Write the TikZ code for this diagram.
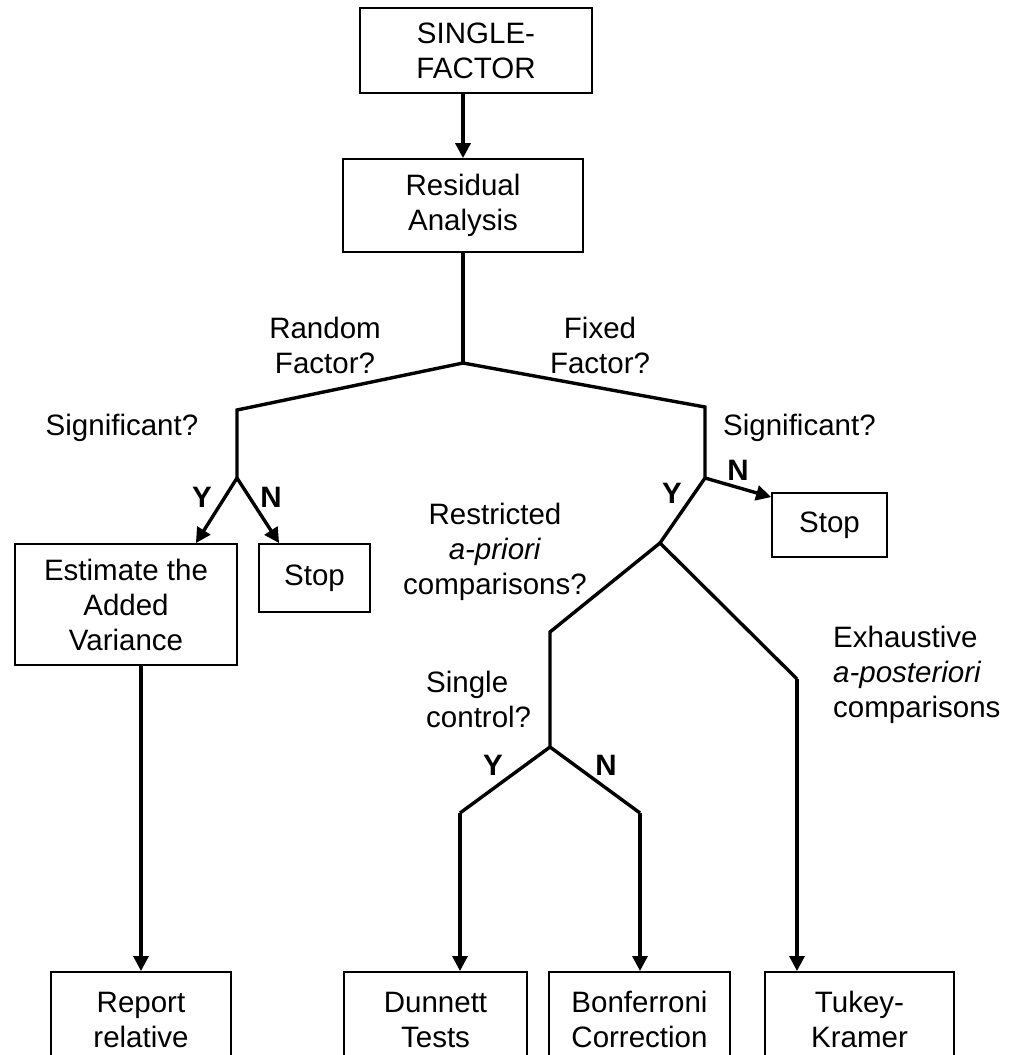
\documentclass[tikz,border=0pt]{standalone}
\usepackage{fontspec}
\setmainfont{Liberation Sans}
\usetikzlibrary{arrows.meta,calc}
\begin{document}
\begin{tikzpicture}[x=1pt,y=-1pt,
  every node/.style={font=\fontsize{29.5}{35}\selectfont, inner sep=0pt},
  box/.style={draw, line width=1.8pt, align=center},
  lbl/.style={align=center},
  yn/.style={font=\fontsize{29.5}{35}\selectfont\bfseries},
  ln/.style={line width=3.4pt, line join=miter},
  arr/.style={line width=3.4pt, -{Triangle[length=15pt,width=15pt]}}]
\useasboundingbox (0,0) rectangle (1017,1055);
\clip (0,0) rectangle (1017,1055);
% boxes
\node[box, minimum width=232, minimum height=85] (sf) at (476,50.5) {SINGLE-\\FACTOR};
\node[box, minimum width=240, minimum height=93] (ra) at (463,205.5) {Residual\\Analysis};
\node[box, minimum width=222, minimum height=121] (est) at (126,604.5) {Estimate the\\Added\\Variance};
\node[box, minimum width=111, minimum height=68] (stopL) at (314.5,578) {Stop};
\node[box, minimum width=115, minimum height=64] (stopR) at (829.5,525) {Stop};
\node[box, anchor=north, minimum width=180, minimum height=130] (rep) at (141,971) {Report\\relative\\\mbox{}};
\node[box, anchor=north, minimum width=183, minimum height=130] (dun) at (435.5,971) {Dunnett\\Tests\\\mbox{}};
\node[box, anchor=north, minimum width=181, minimum height=130] (bon) at (639.5,971) {Bonferroni\\Correction\\\mbox{}};
\node[box, anchor=north, minimum width=189, minimum height=130] (tuk) at (859.5,971) {Tukey-\\Kramer\\\mbox{}};
% junction coordinates
\coordinate (j1) at (463,363);
\coordinate (jl) at (237,410);
\coordinate (jls) at (237,478);
\coordinate (jr) at (705,407);
\coordinate (jrs) at (705,478);
\coordinate (jf) at (660,543);
\coordinate (jrl) at (550,632);
\coordinate (jsc) at (550,747);
\coordinate (jy) at (460,813);
\coordinate (jn) at (640,813);
\coordinate (je) at (797,679);
% connectors
\draw[arr] (sf.south -| ra.north) -- (ra.north);
\draw[ln] (ra.south) -- (j1);
\draw[ln] (jls) -- (jl) -- (j1) -- (jr) -- (jrs);
\draw[arr] (jls) -- ($(est.north east)+(-42,0)$);
\draw[arr] (jls) -- ($(stopL.north west)+(21,0)$);
\draw[arr] (jrs) -- ($(stopR.north west)+(0,5)$);
\draw[ln] (jrs) -- (jf);
\draw[ln] (jsc) -- (jrl) -- (jf) -- (je);
\draw[ln] (jy) -- (jsc) -- (jn);
\draw[arr] (est.south -| rep.north) -- (rep.north);
\draw[arr] (jy) -- (jy |- dun.north);
\draw[arr] (jn) -- (jn |- bon.north);
\draw[arr] (je) -- (je |- tuk.north);
% labels
\node[lbl] (tRand) at (325,345) {Random\\Factor?};
\node[lbl] (tFix) at (600,345) {Fixed\\Factor?};
\node[lbl] (tSigL) at (122,428) {Significant?};
\node[lbl, anchor=west] (tSigR) at (723,428) {Significant?};
\node[yn] (yL) at (202,497) {Y};
\node[yn] (nL) at (271,497) {N};
\node[yn] (yR) at (672,493) {Y};
\node[yn] (nR) at (738,470) {N};
\node[lbl] (tRes) at (495,552) {Restricted\\\textit{a-priori}\\comparisons?};
\node[lbl, align=left, anchor=west] (tExh) at (833,675) {Exhaustive\\\textit{a-posteriori}\\comparisons};
\node[lbl, align=left, anchor=west] (tSing) at (426,699) {Single\\control?};
\node[yn] (yS) at (493,765) {Y};
\node[yn] (nS) at (606,765) {N};
\end{tikzpicture}
\end{document}
